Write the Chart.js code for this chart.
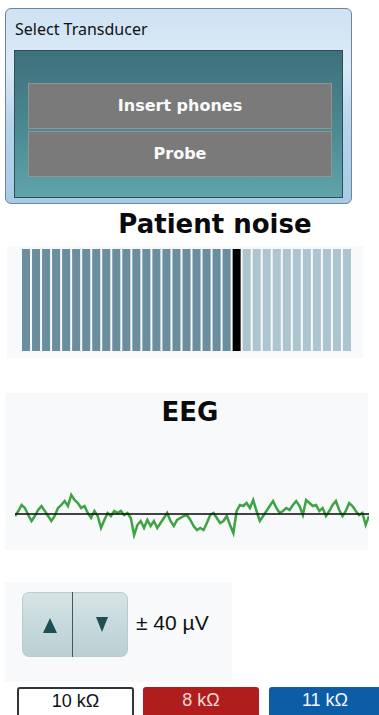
<!DOCTYPE html>
<html>
<head>
<meta charset="utf-8">
<script src="https://cdn.jsdelivr.net/npm/chart.js@4"></script>
<style>
  html, body { margin:0; padding:0; background:#fff; width:379px; height:715px; overflow:hidden; }
  .abs { position:absolute; }
  #dlg { left:5px; top:8px; width:345px; height:194px; border:1px solid #6f8499; border-radius:6px;
    background:linear-gradient(180deg,#cfe2f3 0%,#dbeaf7 30%,#b7d3ec 60%,#a9cae6 100%); }
  #dlg-title { left:15px; top:18px; font:16px "Noto Sans",sans-serif; color:#111; }
  #teal { left:14px; top:50px; width:327px; height:146px; border:1px solid #2f4f57;
    background:linear-gradient(180deg,#3e717b 0%,#4a8790 50%,#5fa4ab 100%); }
  .tbtn { left:28px; width:302px; height:44px; background:#7a7a7a; border:1px solid #939393;
    color:#fafafa; font:bold 16px "DejaVu Sans",sans-serif; text-align:center; line-height:44px; }
  .panel { background:#f7f9fa; }
  .ttl { font:bold 26px "DejaVu Sans",sans-serif; color:#0a0a0a; text-align:center; }
  #updn { left:22px; top:592px; width:104px; height:63px; border:1px solid #b9cbce; border-radius:7px;
    background:linear-gradient(180deg,#d6e4e6 0%,#c4d7da 60%,#bcd0d3 100%); }
  #div { left:72px; top:592px; width:1px; height:65px; background:#44585c; }
  .tri-up { width:0; height:0; border-left:7px solid transparent; border-right:7px solid transparent; border-bottom:15px solid #1e4d52; }
  .tri-dn { width:0; height:0; border-left:6px solid transparent; border-right:6px solid transparent; border-top:15px solid #1e4d52; }
  #uv { left:136px; top:611px; font:21px "Liberation Sans",sans-serif; color:#111; }
  .imp { top:687px; height:34px; font:18px "Liberation Sans",sans-serif; text-align:center; line-height:26px; border-radius:3px; box-sizing:border-box; }
</style>
</head>
<body>
<div id="dlg" class="abs"></div>
<div id="dlg-title" class="abs">Select Transducer</div>
<div id="teal" class="abs"></div>
<div class="abs tbtn" style="top:83px">Insert phones</div>
<div class="abs tbtn" style="top:131px">Probe</div>

<div class="abs ttl" style="left:20px;top:209px;width:390px">Patient noise</div>
<div class="abs panel" style="left:7px;top:246px;width:356px;height:112px"></div>
<canvas id="noise" class="abs" width="331" height="102" style="left:21px;top:249px"></canvas>

<div class="abs panel" style="left:5px;top:393px;width:363px;height:157px"></div>
<div class="abs ttl" style="left:5px;top:397px;width:370px">EEG</div>
<canvas id="eeg" class="abs" width="354" height="80" style="left:15px;top:474px"></canvas>

<div class="abs panel" style="left:5px;top:582px;width:227px;height:100px"></div>
<div id="updn" class="abs"></div>
<div id="div" class="abs"></div>
<div class="abs tri-up" style="left:43px;top:618px"></div>
<div class="abs tri-dn" style="left:96px;top:617px"></div>
<div id="uv" class="abs">± 40 µV</div>

<div class="abs imp" style="left:17px;width:117px;background:#fff;border:2px solid #333;color:#111;line-height:24px">10 kΩ</div>
<div class="abs imp" style="left:143px;width:116px;background:#b01d1d;color:#f3dada">8 kΩ</div>
<div class="abs imp" style="left:269px;width:112px;background:#0c5da5;color:#f2f6fb">11 kΩ</div>

<script>
// patient noise meter: 33 segments, current level marker at segment 22
const noiseSegments = ['1','2','3','4','5','6','7','8','9','10','11','12','13','14','15','16','17','18','19','20','21','22','23','24','25','26','27','28','29','30','31','32','33'];
const noiseHeights = [1,1,1,1,1,1,1,1,1,1,1,1,1,1,1,1,1,1,1,1,1,1,1,1,1,1,1,1,1,1,1,1,1];
const noiseLevel = 22;

// EEG trace, µV (display range ±40 µV)
const eegValues = [
  -2,3,9,6,-1,-7,-2,4,8,3,-2,-7,-2,6,9,13,8,19,14,11,6,8,1,-4,3,-2,-14,-6,1,-2,3,1,3,-1,1,-4,
  -21,-11,-7,-14,-6,-12,-7,-14,-9,-4,1,-7,-12,-6,-4,-2,-1,
  -6,-12,-16,-14,-16,-9,-1,1,-4,-9,-7,-2,-11,-19,3,9,8,11,6,14,3,-7,-2,3,8,13,6,1,3,6,4,9,13,8,
  -1,14,11,8,9,3,6,-2,3,9,13,4,-2,3,11,8,3,-1,1,-11,-2
];
const eegLabels = eegValues.map((v, i) => String(i));
const eegBaseline = eegValues.map(() => 0);

const noiseColors = noiseSegments.map((s, i) =>
  i + 1 < noiseLevel ? '#6a8e9e' : (i + 1 === noiseLevel ? '#000000' : '#adc5ce'));

new Chart(document.getElementById('noise'), {
  type: 'bar',
  data: { labels: noiseSegments, datasets: [{ data: noiseHeights, backgroundColor: noiseColors, borderWidth: 0,
    barPercentage: 0.8, categoryPercentage: 1 }] },
  options: { responsive: false, animation: false, layout: { padding: 0 },
    plugins: { legend: { display: false }, tooltip: { enabled: false } },
    scales: { x: { display: false }, y: { display: false, min: 0, max: 1 } } },
});

new Chart(document.getElementById('eeg'), {
  type: 'line',
  data: { labels: eegLabels, datasets: [
    { data: eegBaseline, borderColor: 'rgba(20,20,20,0.8)', borderWidth: 2, pointRadius: 0 },
    { data: eegValues, borderColor: '#3da343', borderWidth: 2.5, pointRadius: 0, tension: 0 },
  ] },
  options: { responsive: false, animation: false, layout: { padding: 0 },
    plugins: { legend: { display: false }, tooltip: { enabled: false } },
    scales: { x: { display: false, offset: false }, y: { display: false, min: -40, max: 40 } } },
});
</script>
</body>
</html>
